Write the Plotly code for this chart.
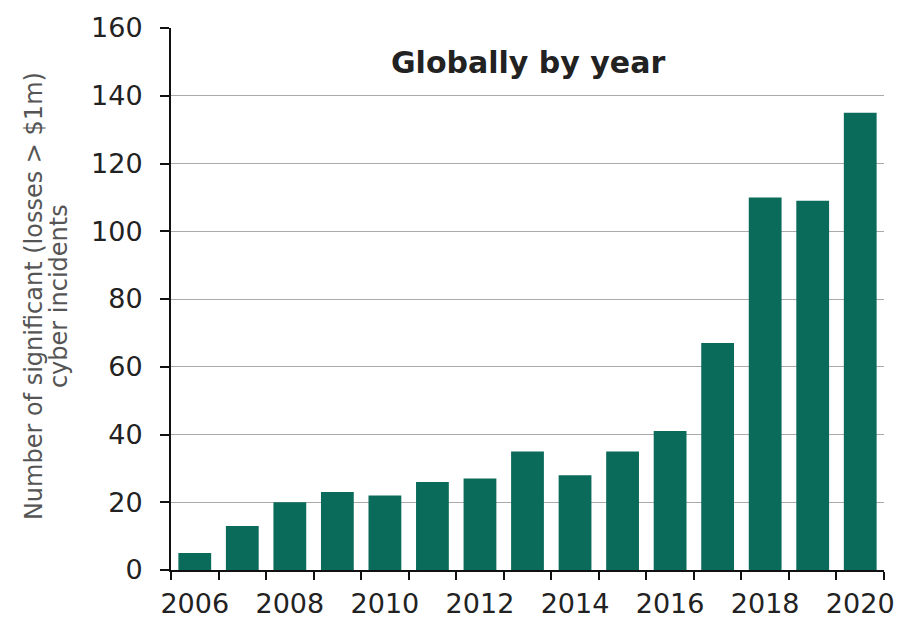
import plotly.graph_objects as go

years = ["2006", "2007", "2008", "2009", "2010", "2011", "2012", "2013",
         "2014", "2015", "2016", "2017", "2018", "2019", "2020"]
incidents = [5, 13, 20, 23, 22, 26, 27, 35, 28, 35, 41, 67, 110, 109, 135]
tick_text = [y if int(y) % 2 == 0 else "" for y in years]
y_ticks = [0, 20, 40, 60, 80, 100, 120, 140, 160]

bar_color = "#0b6b5b"
font_family = "DejaVu Sans"

fig = go.Figure()
fig.add_trace(go.Bar(x=years, y=incidents, marker=dict(color=bar_color, line=dict(width=0)),
                     width=0.69))

fig.update_layout(
    width=907, height=619,
    margin=dict(l=171, r=23, t=28, b=49),
    plot_bgcolor="white", paper_bgcolor="white",
    showlegend=False,
    font=dict(family=font_family, color="#333333"),
    annotations=[
        dict(text="Globally by year", x=0.5, y=0.937, xref="paper", yref="paper",
             xanchor="center", yanchor="middle", showarrow=False,
             font=dict(size=30, color="#222222", family=font_family, weight="bold")),
        dict(text="Number of significant (losses > $1m)",
             x=-0.192, y=0.5055, xref="paper", yref="paper", textangle=-90,
             xanchor="center", yanchor="middle", showarrow=False,
             font=dict(size=24, color="#555555", family=font_family)),
        dict(text="cyber incidents",
             x=-0.157, y=0.5055, xref="paper", yref="paper", textangle=-90,
             xanchor="center", yanchor="middle", showarrow=False,
             font=dict(size=24, color="#555555", family=font_family)),
    ],
)
fig.update_xaxes(
    type="category", tickvals=years, ticktext=tick_text, tickson="boundaries",
    ticks="outside", ticklen=8, tickwidth=2, tickcolor="#111111", tickangle=0,
    showline=True, linecolor="#111111", linewidth=2, automargin=False,
    tickfont=dict(size=27, color="#222222"), range=[-0.5, 14.5], ticklabelstandoff=9,
)
fig.update_yaxes(
    range=[0, 160], tickvals=y_ticks, ticks="outside", ticklen=9, tickwidth=2,
    tickcolor="#111111", showline=True, linecolor="#111111", linewidth=2,
    showgrid=True, gridcolor="#aaaaaa", gridwidth=1, zeroline=False, automargin=False,
    tickfont=dict(size=27, color="#222222"), ticklabelstandoff=12,
)
fig.write_html("out.html")
